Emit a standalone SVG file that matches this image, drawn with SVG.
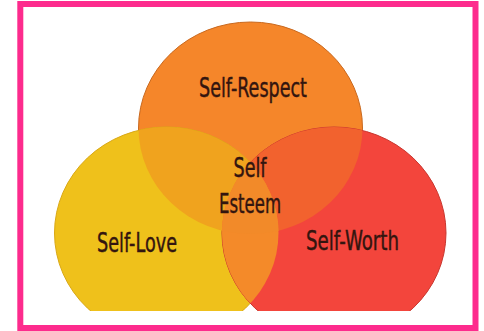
<svg xmlns="http://www.w3.org/2000/svg" width="484" height="331" viewBox="0 0 484 331">
  <defs>
    <clipPath id="area"><rect x="23" y="7" width="450" height="304"/></clipPath>
    <clipPath id="cTop"><ellipse cx="250.5" cy="128" rx="112" ry="106"/></clipPath>
    <clipPath id="cLeft"><ellipse cx="166.5" cy="233" rx="112" ry="106"/></clipPath>
    <clipPath id="cRight"><ellipse cx="334" cy="233" rx="112" ry="106"/></clipPath>
  </defs>
  <style>
    .lbl { font-family: "DejaVu Sans Condensed", "Liberation Sans", sans-serif; font-size: 26px; fill: #33150f; stroke: #33150f; stroke-width: 0.4; text-anchor: middle; }
  </style>
  <rect x="0" y="0" width="484" height="331" fill="#ffffff"/>
  <g clip-path="url(#area)">
    <g id="self-respect">
      <ellipse cx="250.5" cy="128" rx="112" ry="106" fill="#f5862a" stroke="#c9691f" stroke-width="1"/>
    </g>
    <g id="self-love">
      <ellipse cx="166.5" cy="233" rx="112" ry="106" fill="#efc11b" stroke="#d9a816" stroke-width="1"/>
    </g>
    <g id="self-worth">
      <ellipse cx="334" cy="233" rx="112" ry="106" fill="#f3453c" stroke="#c9372f" stroke-width="1"/>
    </g>
    <g id="overlaps">
      <ellipse cx="166.5" cy="233" rx="112" ry="106" fill="#f0a31e" clip-path="url(#cTop)"/>
      <ellipse cx="334" cy="233" rx="112" ry="106" fill="#f2622e" clip-path="url(#cTop)"/>
      <ellipse cx="334" cy="233" rx="112" ry="106" fill="#f48a29" clip-path="url(#cLeft)"/>
      <g clip-path="url(#cTop)">
        <ellipse cx="334" cy="233" rx="112" ry="106" fill="#f28a29" clip-path="url(#cLeft)"/>
      </g>
    </g>
    <g id="self-esteem">
      <text class="lbl" x="250" y="177" textLength="33" lengthAdjust="spacingAndGlyphs">Self</text>
      <text class="lbl" x="250" y="213" textLength="62" lengthAdjust="spacingAndGlyphs">Esteem</text>
    </g>
    <text class="lbl" x="253" y="97" textLength="108" lengthAdjust="spacingAndGlyphs">Self-Respect</text>
    <text class="lbl" x="137" y="252" textLength="80" lengthAdjust="spacingAndGlyphs">Self-Love</text>
    <text class="lbl" x="352.5" y="250" textLength="93" lengthAdjust="spacingAndGlyphs">Self-Worth</text>
  </g>
  <rect x="20.3" y="4" width="455.2" height="324" fill="none" stroke="#fd2b8d" stroke-width="6"/>
</svg>
